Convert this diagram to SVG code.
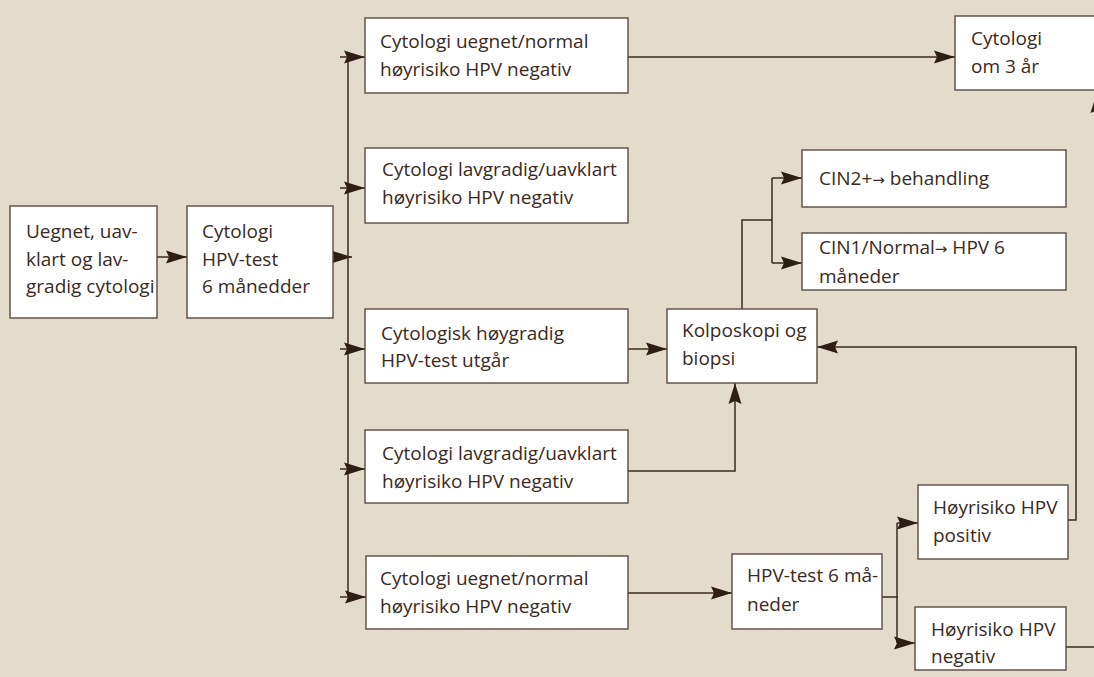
<svg xmlns="http://www.w3.org/2000/svg" width="1094" height="677" viewBox="0 0 1094 677">
<defs>
<marker id="ah" markerUnits="userSpaceOnUse" markerWidth="24" markerHeight="14" refX="21" refY="6.5" orient="auto" overflow="visible">
<path d="M0,0 L21,6.5 L0,13 L3,6.5 z" fill="#2e1f16"/>
</marker>
<style>
.bg{fill:#e3dccc}
.box{fill:#ffffff;stroke:#5b4b40;stroke-width:1.4}
.ln{fill:none;stroke:#3a2a20;stroke-width:1.5}
.ar{fill:none;stroke:#3a2a20;stroke-width:1.5;marker-end:url(#ah)}
text{font-family:"Open Sans","Noto Sans","Liberation Sans",sans-serif;font-size:19px;fill:#3a2a22}
.arw{font-family:"DejaVu Sans",sans-serif;font-size:15px}
</style>
</defs>
<rect class="bg" x="0" y="0" width="1094" height="677"/>

<g id="connectors">
<path class="ar" d="M157,257 L187,257"/>
<path class="ar" d="M333,257 L352,257"/>
<path class="ln" d="M348,57 L348,597"/>
<path class="ar" d="M340,57 L365,57"/>
<path class="ar" d="M340,188 L365,188"/>
<path class="ar" d="M340,349 L365,349"/>
<path class="ar" d="M340,469 L365,469"/>
<path class="ar" d="M340,597 L366,597"/>
<path class="ar" d="M628,57 L955,57"/>
<path class="ar" d="M628,349 L667,349"/>
<path class="ar" d="M628,471 L735,471 L735,383"/>
<path class="ln" d="M742,309 L742,220 L772,220"/>
<path class="ln" d="M772,178 L772,263"/>
<path class="ar" d="M772,178 L802,178"/>
<path class="ar" d="M772,263 L802,263"/>
<path class="ar" d="M628,593 L732,593"/>
<path class="ln" d="M882,597 L898,597"/>
<path class="ln" d="M897,523 L897,643"/>
<path class="ar" d="M897,523 L918,523"/>
<path class="ar" d="M897,643 L915,643"/>
<path class="ar" d="M1068,520 L1076,520 L1076,347 L817,347"/>
<path class="ar" d="M1066,647 L1097,647 L1097,92"/>
</g>

<g id="n-start"><rect class="box" x="10" y="206" width="147" height="112"/>
<text x="26" y="238">Uegnet, uav-</text><text x="26" y="266">klart og lav-</text><text x="26" y="293">gradig cytologi</text></g>

<g id="n-cyt6"><rect class="box" x="187" y="206" width="146" height="112"/>
<text x="202" y="238">Cytologi</text><text x="202" y="266">HPV-test</text><text x="202" y="293">6 månedder</text></g>

<g id="n-a"><rect class="box" x="365" y="18" width="263" height="75"/>
<text x="380" y="48">Cytologi uegnet/normal</text><text x="380" y="76">høyrisiko HPV negativ</text></g>

<g id="n-b"><rect class="box" x="365" y="148" width="263" height="75"/>
<text x="382" y="176">Cytologi lavgradig/uavklart</text><text x="382" y="204">høyrisiko HPV negativ</text></g>

<g id="n-c"><rect class="box" x="365" y="309" width="263" height="74"/>
<text x="381" y="340">Cytologisk høygradig</text><text x="381" y="367">HPV-test utgår</text></g>

<g id="n-d"><rect class="box" x="365" y="430" width="263" height="73"/>
<text x="382" y="460">Cytologi lavgradig/uavklart</text><text x="382" y="488">høyrisiko HPV negativ</text></g>

<g id="n-e"><rect class="box" x="366" y="556" width="262" height="73"/>
<text x="380" y="585">Cytologi uegnet/normal</text><text x="380" y="613">høyrisiko HPV negativ</text></g>

<g id="n-3aar"><rect class="box" x="955" y="16" width="150" height="74"/>
<text x="971" y="45">Cytologi</text><text x="971" y="73">om 3 år</text></g>

<g id="n-cin2"><rect class="box" x="802" y="150" width="264" height="57"/>
<text x="819" y="185">CIN2+<tspan class="arw">→</tspan> behandling</text></g>

<g id="n-cin1"><rect class="box" x="802" y="233" width="264" height="57"/>
<text x="819" y="254">CIN1/Normal<tspan class="arw">→</tspan> HPV 6</text><text x="819" y="283">måneder</text></g>

<g id="n-kolpo"><rect class="box" x="667" y="309" width="150" height="74"/>
<text x="682" y="337">Kolposkopi og</text><text x="682" y="365">biopsi</text></g>

<g id="n-hpv6"><rect class="box" x="732" y="554" width="150" height="75"/>
<text x="747" y="582">HPV-test 6 må-</text><text x="747" y="611">neder</text></g>

<g id="n-pos"><rect class="box" x="918" y="485" width="150" height="74"/>
<text x="933" y="514">Høyrisiko HPV</text><text x="933" y="542">positiv</text></g>

<g id="n-neg"><rect class="box" x="915" y="607" width="151" height="63"/>
<text x="931" y="636">Høyrisiko HPV</text><text x="931" y="663">negativ</text></g>
</svg>
